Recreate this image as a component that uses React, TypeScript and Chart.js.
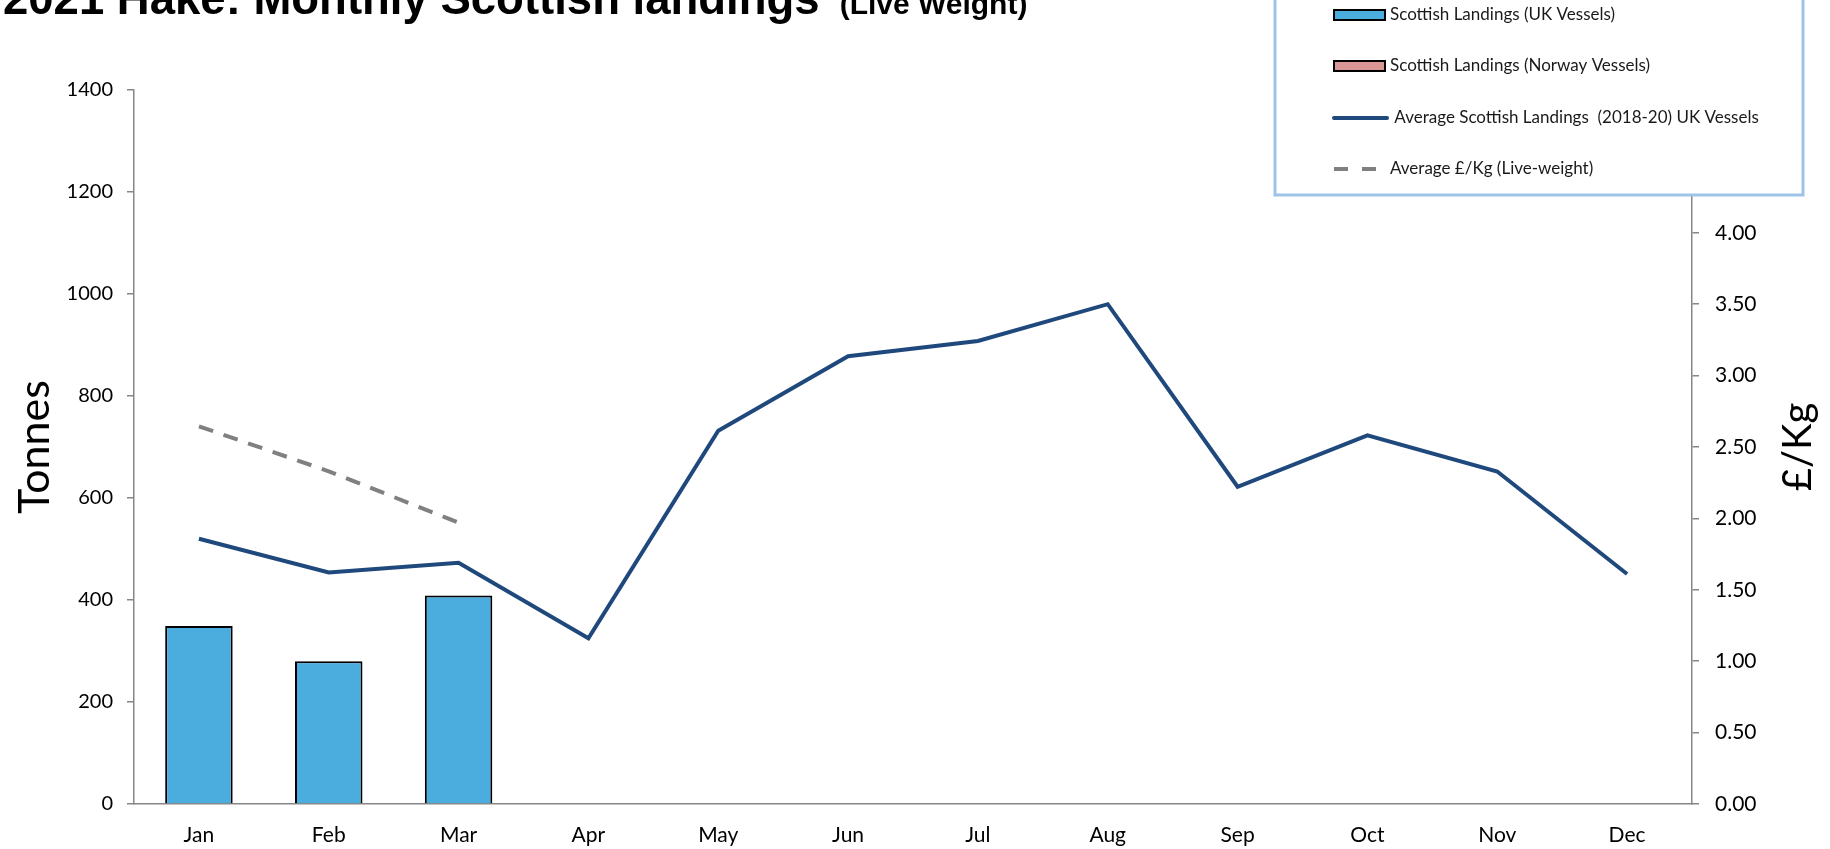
import React, { useEffect, useRef } from "react";
import { Chart, registerables } from "chart.js";

Chart.register(...registerables);

const months = ["Jan", "Feb", "Mar", "Apr", "May", "Jun", "Jul", "Aug", "Sep", "Oct", "Nov", "Dec"];
const ukLandings = [349, 280, 409, null, null, null, null, null, null, null, null, null];
const norwayLandings = [null, null, null, null, null, null, null, null, null, null, null, null];
const avgLandings = [520, 454, 473, 325, 732, 878, 908, 980, 622, 723, 652, 451];
const avgPrice = [2.645, 2.33, 1.97, null, null, null, null, null, null, null, null, null];

const titleMain = "2021 Hake: Monthly Scottish landings";
const titleSub = "(Live Weight)";
const leftTitle = "Tonnes";
const rightTitle = "£/Kg";
const legendLabels = [
  "Scottish Landings (UK Vessels)",
  "Scottish Landings (Norway Vessels)",
  " Average Scottish Landings  (2018-20) UK Vessels",
  "Average £/Kg (Live-weight)",
];

const UK_BLUE = "#4BACDE";
const NOR_PINK = "#D99694";
const NAVY = "#1F497D";
const GREY_DASH = "#808080";
const AXIS = "#878787";

const overlay = {
  id: "overlay",
  afterDraw(chart: any) {
    const ctx = chart.ctx as CanvasRenderingContext2D;
    const area = chart.chartArea;
    ctx.save();
    // Title
    ctx.fillStyle = "#000";
    ctx.textBaseline = "alphabetic";
    ctx.textAlign = "left";
    ctx.font = 'bold 45.5px "Liberation Sans", Arial, sans-serif';
    ctx.fillText(titleMain, 3, 14);
    const w = ctx.measureText(titleMain).width;
    ctx.font = 'bold 30px "Liberation Sans", Arial, sans-serif';
    ctx.fillText(titleSub, 3 + w + 20, 14);

    // Axis titles
    const midY = (area.top + area.bottom) / 2;
    ctx.textAlign = "center";
    ctx.textBaseline = "middle";
    ctx.font = '43px Lato, sans-serif';
    ctx.save();
    ctx.translate(35, midY);
    ctx.rotate(-Math.PI / 2);
    ctx.fillText(leftTitle, 0, 0);
    ctx.restore();
    ctx.font = '40px Lato, sans-serif';
    ctx.save();
    ctx.translate(1798, midY);
    ctx.rotate(-Math.PI / 2);
    ctx.fillText(rightTitle, 0, 0);
    ctx.restore();

    // Legend
    const bx = 1275, by = -5, bw = 528, bh = 200;
    ctx.fillStyle = "#fff";
    ctx.fillRect(bx, by, bw, bh);
    ctx.strokeStyle = "#9DC3E6";
    ctx.lineWidth = 3;
    ctx.strokeRect(bx, by, bw, bh);
    const ys = [15, 66, 118, 169];
    const sx = 1334, sw = 51;
    ctx.fillStyle = UK_BLUE;
    ctx.fillRect(sx, ys[0] - 5, sw, 10);
    ctx.strokeStyle = "#000";
    ctx.lineWidth = 2;
    ctx.strokeRect(sx, ys[0] - 5, sw, 10);
    ctx.fillStyle = NOR_PINK;
    ctx.fillRect(sx, ys[1] - 5, sw, 10);
    ctx.strokeRect(sx, ys[1] - 5, sw, 10);
    ctx.strokeStyle = NAVY;
    ctx.lineWidth = 4;
    ctx.lineCap = "round";
    ctx.beginPath();
    ctx.moveTo(sx, ys[2]);
    ctx.lineTo(sx + 53, ys[2]);
    ctx.stroke();
    ctx.strokeStyle = GREY_DASH;
    ctx.lineWidth = 4;
    ctx.lineCap = "butt";
    ctx.beginPath();
    ctx.moveTo(sx, ys[3]);
    ctx.lineTo(sx + 14, ys[3]);
    ctx.moveTo(sx + 28, ys[3]);
    ctx.lineTo(sx + 42, ys[3]);
    ctx.stroke();
    ctx.fillStyle = "#1a1a1a";
    ctx.textAlign = "left";
    ctx.textBaseline = "middle";
    ctx.font = '17px Lato, sans-serif';
    legendLabels.forEach((t, i) => {
      ctx.fillText(t, 1390, ys[i]);
    });
    ctx.restore();
  },
};

export default function App() {
  const ref = useRef<HTMLCanvasElement | null>(null);
  useEffect(() => {
    if (!ref.current) return;
    const chart = new Chart(ref.current, {
      type: "bar",
      data: {
        labels: months,
        datasets: [
          {
            type: "line",
            label: legendLabels[2],
            data: avgLandings,
            yAxisID: "y",
            borderColor: NAVY,
            borderWidth: 4,
            pointRadius: 0,
            tension: 0,
            order: 0,
          } as any,
          {
            type: "line",
            label: legendLabels[3],
            data: avgPrice,
            yAxisID: "y2",
            borderColor: GREY_DASH,
            borderWidth: 4,
            borderDash: [15, 11],
            pointRadius: 0,
            tension: 0,
            order: 1,
          } as any,
          {
            type: "bar",
            label: legendLabels[0],
            data: ukLandings,
            yAxisID: "y",
            backgroundColor: UK_BLUE,
            borderColor: "#000",
            borderWidth: 2,
            stack: "s",
            barPercentage: 0.52,
            categoryPercentage: 1,
            order: 2,
          },
          {
            type: "bar",
            label: legendLabels[1],
            data: norwayLandings,
            yAxisID: "y",
            backgroundColor: NOR_PINK,
            borderColor: "#000",
            borderWidth: 2,
            stack: "s",
            barPercentage: 0.52,
            categoryPercentage: 1,
            order: 3,
          },
        ],
      },
      options: {
        responsive: false,
        animation: false,
        devicePixelRatio: 1,
        layout: { padding: { top: 90, left: 0, right: 0, bottom: 0 } },
        plugins: { legend: { display: false }, title: { display: false }, tooltip: { enabled: false } },
        scales: {
          x: {
            offset: true,
            grid: { display: false, drawTicks: false },
            border: { display: true, color: AXIS, width: 1.5 },
            ticks: { color: "#000", font: { family: "Lato", size: 21 }, padding: 19, maxRotation: 0 },
            afterFit: (s: any) => { s.height = 45; },
          },
          y: {
            position: "left",
            min: 0,
            max: 1400,
            ticks: {
              stepSize: 200,
              color: "#000",
              font: { family: "Lato", size: 20 },
              padding: 14,
              callback: (v: any) => String(v),
            },
            grid: { drawOnChartArea: false, tickLength: 7, color: AXIS, lineWidth: 1.5 },
            border: { display: true, color: AXIS, width: 1.5 },
            afterFit: (s: any) => { s.width = 134; },
          },
          y2: {
            position: "right",
            min: 0,
            max: 5,
            ticks: {
              stepSize: 0.5,
              color: "#000",
              font: { family: "Lato", size: 21 },
              padding: 16,
              callback: (v: any) => Number(v).toFixed(2),
            },
            grid: { drawOnChartArea: false, tickLength: 7, color: AXIS, lineWidth: 1.5 },
            border: { display: true, color: AXIS, width: 1.5 },
            afterFit: (s: any) => { s.width = 138; },
          },
        },
      },
      plugins: [overlay],
    });
    return () => chart.destroy();
  }, []);
  return (
    <div style={{ position: "fixed", left: 0, top: 0, width: 1830, height: 849, background: "#fff" }}>
      <canvas ref={ref} width={1830} height={849} style={{ display: "block", width: 1830, height: 849 }} />
    </div>
  );
}
